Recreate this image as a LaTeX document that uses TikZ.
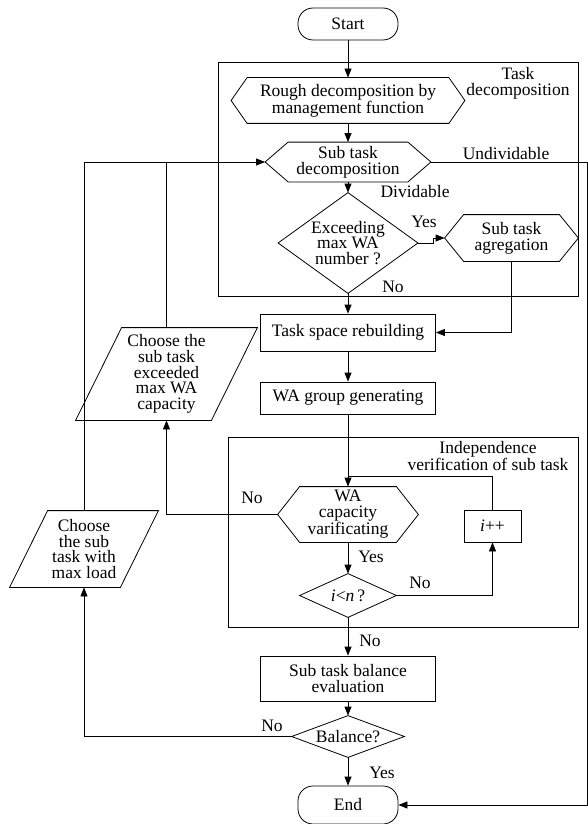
\documentclass[tikz,border=0pt]{standalone}
\usepackage{fontspec}
\setmainfont{Liberation Serif}
\usetikzlibrary{arrows.meta}

% outline helpers: the node itself is invisible, its anchors shape the outline
\newcommand\hexoutline[2]{\draw (#1.west) -- ([xshift=#2]#1.north west) -- ([xshift=-#2]#1.north east) -- (#1.east) -- ([xshift=-#2]#1.south east) -- ([xshift=#2]#1.south west) -- cycle;}
\newcommand\diaoutline[1]{\draw (#1.west) -- (#1.north) -- (#1.east) -- (#1.south) -- cycle;}
\newcommand\paraoutline[2]{\draw ([xshift=-#2]#1.south west) -- ([xshift=#2]#1.north west) -- ([xshift=#2]#1.north east) -- ([xshift=-#2]#1.south east) -- cycle;}

\begin{document}
\begin{tikzpicture}[x=1pt,y=-1pt, line width=0.8pt,
  font=\fontsize{17.5}{15.7}\selectfont,
  arr/.style={-{Triangle[length=9pt,width=7pt]}},
  outline/.style 2 args={inner sep=0pt, align=center, minimum width=#1, minimum height=#2},
  procbox/.style 2 args={outline={#1}{#2}, draw},
  term/.style 2 args={outline={#1}{#2}, draw, rounded corners=15pt},
  txt/.style={inner sep=1pt, align=center}]
\useasboundingbox (0,0) rectangle (588,824);

% grouping frames
\node[procbox={360}{234}] (tdframe) at (398,179) {};
\node[procbox={350}{190}] (ivframe) at (403,532) {};
\node[txt] (tdlabel) at (518,83) {Task\\decomposition};
\node[txt] (ivlabel) at (488,456) {Independence\\verification of sub task};

% flow nodes
\node[term={100}{32}] (start) at (348,24) {Start};
\node[outline={233}{45}] (rough) at (348,100.5) {Rough decomposition by\\management function};
\node[outline={165}{39}] (subdec) at (348,162) {Sub task\\decomposition};
\node[outline={139}{100}] (exceed) at (348,243) {Exceeding\\max WA\\number ?};
\node[outline={133}{46}] (agg) at (511.5,238) {Sub task\\agregation};
\node[procbox={175}{37}] (tsr) at (348,332.5) {Task space rebuilding};
\node[procbox={175}{32}] (wag) at (348,398) {WA group generating};
\node[outline={140}{55}] (wacap) at (348,514.5) {WA\\capacity\\varificating};
\node[procbox={57}{32}] (ipp) at (492.5,526) {\textit{i}++};
\node[outline={96}{43}] (iln) at (348,595.5) {\textit{i}<\textit{n}\,?};
\node[outline={135}{92}] (pcap) at (166.5,374) {Choose the\\sub task\\exceeded\\max WA\\capacity};
\node[outline={110}{76}] (pload) at (84,549) {Choose\\the sub\\task with\\max load};
\node[procbox={175}{45}] (sbe) at (348,678.5) {Sub task balance\\evaluation};
\node[outline={112}{41}] (bal) at (348,736.5) {Balance?};
\node[term={100}{38}] (end) at (348,805) {End};

\hexoutline{rough}{16}
\hexoutline{subdec}{23}
\hexoutline{agg}{19}
\hexoutline{wacap}{22}
\diaoutline{exceed}
\diaoutline{iln}
\diaoutline{bal}
\paraoutline{pcap}{23}
\paraoutline{pload}{19}

% helper points
\coordinate (rightrail) at (587,162);
\coordinate (loopjoin) at (348,476);

% connectors
\draw[arr] (start) -- (rough);
\draw[arr] (rough) -- (subdec);
\draw[arr] (subdec) -- (exceed);
\draw[arr] (exceed.east) -- ++(15,0) |- (agg.west);
\draw[arr] (exceed) -- (tsr);
\draw[arr] (agg.south) |- (tsr.east);
\draw[arr] (subdec.east) -- (rightrail) |- (end.east);
\draw[arr] (tsr) -- (wag);
\draw[arr] (wag) -- (wacap);
\draw (ipp.north) |- (loopjoin);
\draw[arr] (wacap) -- (iln);
\draw[arr] (iln.east) -| (ipp.south);
\draw[arr] (iln) -- (sbe);
\draw[arr] (wacap.west) -| (pcap.south);
\draw (pcap.north) -- (pcap.north |- subdec.west);
\draw[arr] (pload.north) |- (subdec.west);
\draw[arr] (sbe) -- (bal);
\draw[arr] (bal) -- (end);
\draw[arr] (bal.west) -| (pload.south);

% branch labels
\node[txt] (lblDiv) at (415,192) {Dividable};
\node[txt] (lblUnd) at (506,154) {Undividable};
\node[txt] (lblYesA) at (424,222) {Yes};
\node[txt] (lblNoA) at (393,287) {No};
\node[txt, fill=white] (lblNoB) at (252,498) {No};
\node[txt] (lblYesB) at (371,557) {Yes};
\node[txt] (lblNoC) at (420,583) {No};
\node[txt] (lblNoD) at (370,641) {No};
\node[txt] (lblNoE) at (272,726) {No};
\node[txt] (lblYesC) at (382,773) {Yes};
\end{tikzpicture}
\end{document}
